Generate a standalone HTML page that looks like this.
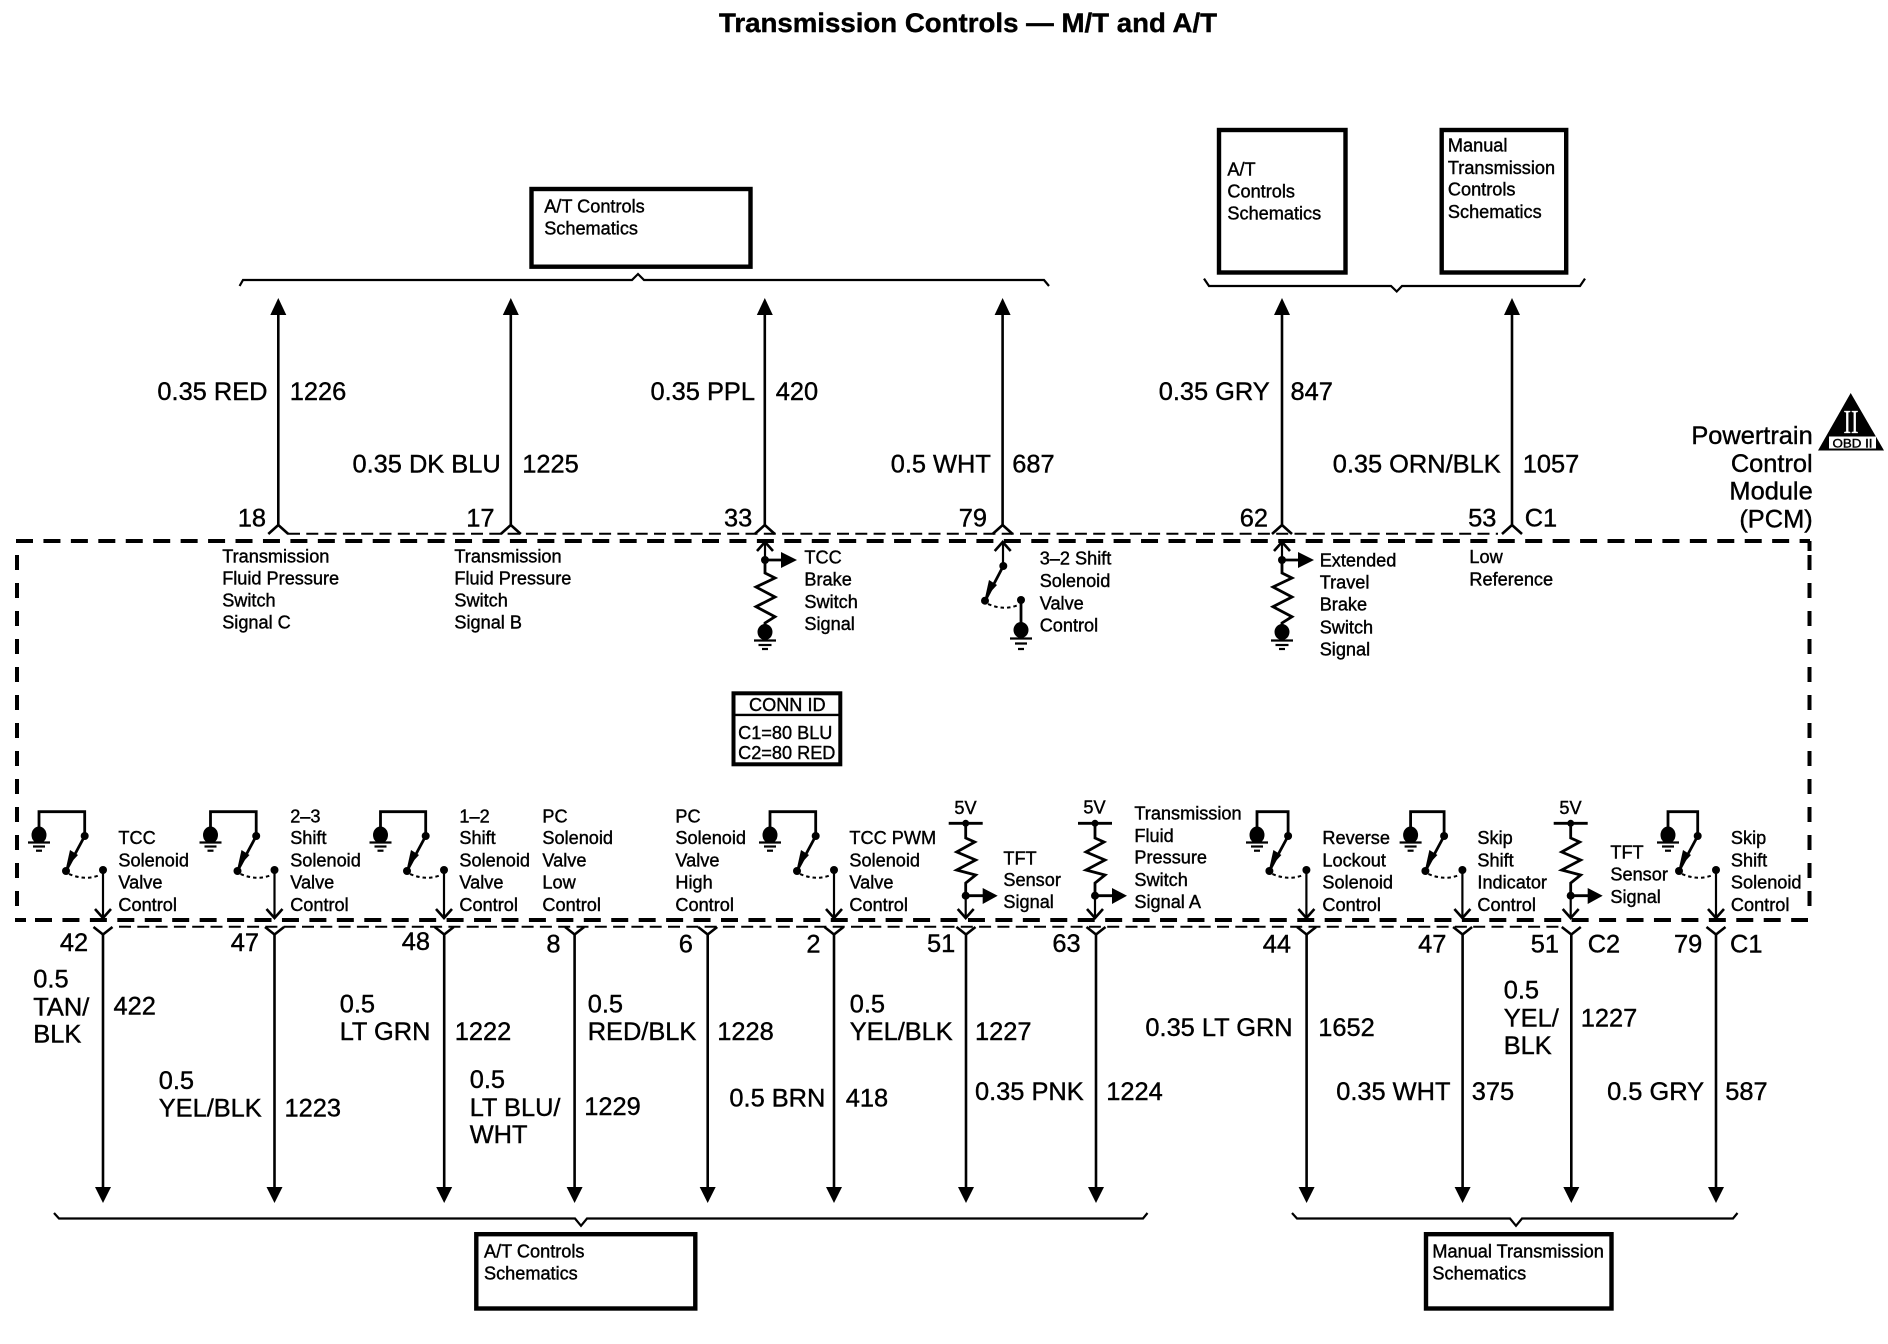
<!DOCTYPE html>
<html><head><meta charset="utf-8"><style>
html,body{margin:0;padding:0;background:#fff}
svg{display:block}
text{font-family:"Liberation Sans",sans-serif;fill:#000;stroke:#000;stroke-width:.4}
.b{font-size:25.4px}.s{font-size:18.15px}
.t{font-size:26.5px;font-weight:bold}
.w{stroke:#000;stroke-width:2.6;fill:none}
.n{stroke:#000;stroke-width:2.2;fill:none}
.f{stroke:#000;stroke-width:2.8;fill:none}
.box{stroke:#000;stroke-width:4.4;fill:#fff}
.d{stroke:#000;stroke-width:4;stroke-dasharray:17 10.44;fill:none}
.v{stroke:#000;stroke-width:4;stroke-dasharray:15 13;fill:none}
.td{stroke:#000;stroke-width:2;stroke-dasharray:12 6.3;fill:none}
</style></head><body>
<svg width="1888" height="1344" viewBox="0 0 1888 1344" xmlns="http://www.w3.org/2000/svg">
<defs>
<g id="upw"><path d="M0 525V305" class="w"/><path d="M0 298L8 315H-8Z"/><path d="M-10 534L0 525L10 534" class="w"/></g>
<g id="dnw"><path d="M0 934V1190" class="w"/><path d="M0 1203L8 1187H-8Z"/><path d="M-9.5 927L0 934.5L9.5 927" class="w"/></g>
<g id="sw"><circle cx="-18.3" cy="836" r="4"/><circle cx="-37" cy="871" r="4"/><circle cx="0" cy="870" r="4"/><path d="M-18.3 836L-36 869" class="f"/><path d="M-37 868L-33 850L-25 855Z"/><path d="M-34 874Q-18 881 -3 875" fill="none" stroke="#000" stroke-width="2" stroke-dasharray="3.5 3"/><path d="M0 870V917" class="n"/><path d="M-8 909L0 918L8 909" class="w"/></g>
<g id="gnd"><ellipse cx="0" cy="835" rx="7.5" ry="8.5"/><path d="M-11 842.5H11" class="n" stroke-width="1.8"/><path d="M-6 846.5H6" class="n"/><path d="M-3 850.7H3" class="n"/></g>
<g id="res"><path d="M0 561V573L10 578L-9 587L10 597L-9 606.7L10 616.7L0 623V630" class="f"/><circle cx="0" cy="560" r="4"/><path d="M0 560H18" class="f"/><path d="M32 560L16 552V568Z"/><path d="M0 560V543" class="n"/><path d="M-8 551L0 542L8 551" class="w"/><ellipse cx="0" cy="632" rx="7.5" ry="8"/><path d="M-11 640.5H11" class="n"/><path d="M-6.5 645H6.5" class="n"/><path d="M-3 649H3" class="n"/></g>
<g id="tft"><path d="M-17 823.3H17" class="f"/><circle cx="0" cy="823.3" r="3.5"/><path d="M0 823V838L9 842L-9 852L10 860L-9 870L10 875L0 883V895" class="f"/><circle cx="0" cy="895.7" r="4"/><path d="M0 895.7H18" class="f"/><path d="M32 895.7L17 888V904Z"/><path d="M0 896V917" class="n"/><path d="M-8 909L0 918L8 909" class="w"/></g>
</defs>

<text class="t" x="719" y="32" textLength="498" lengthAdjust="spacingAndGlyphs">Transmission Controls — M/T and A/T</text>

<!-- PCM dashed outline -->
<path class="d" d="M16 541H1810"/>
<path class="d" d="M35 920H1808"/>
<path d="M15 920H26" stroke="#000" stroke-width="4"/>
<path class="v" d="M17 555V920"/>
<path class="v" d="M1809.5 555V906"/>
<path d="M1809.5 541V551" stroke="#000" stroke-width="4"/>
<path class="td" d="M288 533.7H1498"/>
<path class="td" d="M119 926.7H1560"/>

<!-- boxes -->
<rect class="box" x="531.5" y="189" width="219" height="77.7"/>
<rect class="box" x="1219" y="130" width="126.5" height="142.5"/>
<rect class="box" x="1441.7" y="130" width="124.5" height="142.5"/>
<rect class="box" x="476.3" y="1234.2" width="219" height="74.3"/>
<rect class="box" x="1426" y="1234.2" width="185.5" height="74.3"/>

<!-- braces -->
<path class="n" d="M239.6 286L243 280H632L638 274L644 280H1044L1049 286"/>
<path class="n" d="M1204 278.6L1209 286H1391L1396.7 291.5L1402 286H1580L1585 278.6"/>
<path class="n" d="M54 1213L59 1218.5H575L581 1225.8L587 1218.5H1143L1147.5 1213"/>
<path class="n" d="M1292 1213L1297 1218.5H1510L1516 1225.8L1522 1218.5H1733L1737.5 1213"/>

<!-- upper wires -->
<use href="#upw" x="278.3"/><use href="#upw" x="510.8"/><use href="#upw" x="764.8"/><use href="#upw" x="1002.6"/><use href="#upw" x="1282"/><use href="#upw" x="1512"/>

<!-- lower wires -->
<use href="#dnw" x="103"/><use href="#dnw" x="274.5"/><use href="#dnw" x="444.2"/><use href="#dnw" x="574.6"/><use href="#dnw" x="707.7"/><use href="#dnw" x="834"/><use href="#dnw" x="966"/><use href="#dnw" x="1096"/><use href="#dnw" x="1306.6"/><use href="#dnw" x="1462.6"/><use href="#dnw" x="1571.3"/><use href="#dnw" x="1716"/>

<!-- sensors -->
<use href="#res" x="765"/><use href="#res" x="1282"/>
<use href="#tft" x="965.7"/><use href="#tft" x="1095"/><use href="#tft" x="1570.7"/>

<!-- 3-2 shift -->
<path class="n" d="M1003 543V566"/><path class="w" d="M994.7 551L1002.7 542L1010.7 551"/>
<circle cx="1003.3" cy="566" r="4"/><circle cx="985" cy="600.7" r="4"/><circle cx="1021" cy="600" r="4"/>
<path class="f" d="M1003.3 566L986 599"/><path d="M985 598L989 580L997 585Z"/>
<path d="M988 604Q1004 611 1018 605" fill="none" stroke="#000" stroke-width="2" stroke-dasharray="3.5 3"/>
<path class="f" d="M1021 600V625"/><ellipse cx="1021" cy="630" rx="7.5" ry="8"/>
<path class="n" d="M1010 638.5H1032M1015 643.5H1027M1018 649H1024"/>

<!-- solenoid switches -->
<use href="#sw" x="103"/><use href="#gnd" x="39"/><path class="f" d="M39 830V811.7H84.7V836"/>
<use href="#sw" x="274.5"/><use href="#gnd" x="210.5"/><path class="f" d="M210.5 830V811.7H256.2V836"/>
<use href="#sw" x="444"/><use href="#gnd" x="380.5"/><path class="f" d="M380.5 830V811.7H425.7V836"/>
<use href="#sw" x="834"/><use href="#gnd" x="770"/><path class="f" d="M770 830V811.7H815.7V836"/>
<use href="#sw" x="1306.4"/><use href="#gnd" x="1257"/><path class="f" d="M1257 830V811.7H1288.1V836"/>
<use href="#sw" x="1462.4"/><use href="#gnd" x="1410.6"/><path class="f" d="M1410.6 830V811.7H1444.1V836"/>
<use href="#sw" x="1716"/><use href="#gnd" x="1668"/><path class="f" d="M1668 830V811.7H1697.7V836"/>

<!-- conn id -->
<rect x="733.5" y="693.3" width="106.8" height="71" fill="#fff" stroke="#000" stroke-width="4"/>
<path d="M733 714.9H841" stroke="#000" stroke-width="2.4"/>

<!-- OBD -->
<path d="M1850.7 393L1818 450.5H1884Z"/>
<text x="1843.5" y="433" textLength="15" lengthAdjust="spacingAndGlyphs" style="font-family:'Liberation Serif',serif;font-size:34px;fill:#fff;stroke:#fff;stroke-width:.3">II</text>
<rect x="1829" y="436.5" width="47" height="12" fill="#fff"/>
<text x="1832.5" y="447.5" style="font-size:12px;stroke-width:.4" textLength="40" lengthAdjust="spacingAndGlyphs">OBD II</text>

<!-- big labels -->
<g class="b" transform="translate(-.3,-.4)">
<text x="157.7" y="400.5">0.35 RED</text><text x="290" y="400.5">1226</text>
<text x="352.8" y="472.8">0.35 DK BLU</text><text x="522.6" y="472.8">1225</text>
<text x="650.8" y="400.5">0.35 PPL</text><text x="776" y="400.5">420</text>
<text x="891" y="472.8">0.5 WHT</text><text x="1012.6" y="472.8">687</text>
<text x="1159" y="400.5">0.35 GRY</text><text x="1290.8" y="400.5">847</text>
<text x="1333" y="472.8">0.35 ORN/BLK</text><text x="1523" y="472.8">1057</text>
<text x="238" y="527">18</text><text x="466.6" y="527">17</text><text x="724.3" y="527">33</text><text x="959" y="527">79</text><text x="1240" y="527">62</text><text x="1468.4" y="527">53</text><text x="1525" y="527">C1</text>
<text x="1813" y="444.5" text-anchor="end">Powertrain</text><text x="1813" y="472.3" text-anchor="end">Control</text><text x="1813" y="500" text-anchor="end">Module</text><text x="1813" y="528" text-anchor="end">(PCM)</text>
<text x="60.2" y="951.5">42</text><text x="231" y="951.5">47</text><text x="402" y="950.6">48</text><text x="546.7" y="952.7">8</text><text x="679" y="952.7">6</text><text x="806.7" y="952.7">2</text><text x="927.3" y="952.3">51</text><text x="1052.7" y="952.5">63</text><text x="1263" y="952.7">44</text><text x="1418.4" y="952.7">47</text><text x="1531" y="952.7">51</text><text x="1588" y="952.7">C2</text><text x="1674.3" y="952.7">79</text><text x="1730.3" y="952.7">C1</text>
<text x="33.6" y="988">0.5</text><text x="33.6" y="1015.8">TAN/</text><text x="33.6" y="1042.8">BLK</text><text x="113.8" y="1015">422</text>
<text x="159" y="1089.5">0.5</text><text x="159" y="1117">YEL/BLK</text><text x="284.8" y="1117">1223</text>
<text x="340" y="1012.8">0.5</text><text x="340" y="1040.6">LT GRN</text><text x="455" y="1040.6">1222</text>
<text x="470" y="1088.6">0.5</text><text x="470" y="1116.5">LT BLU/</text><text x="470" y="1143.5">WHT</text><text x="584.6" y="1115.6">1229</text>
<text x="588" y="1012.8">0.5</text><text x="588" y="1040.6">RED/BLK</text><text x="717.6" y="1040.6">1228</text>
<text x="729.7" y="1107">0.5 BRN</text><text x="846" y="1107">418</text>
<text x="850" y="1012.8">0.5</text><text x="850" y="1040.6">YEL/BLK</text><text x="975.3" y="1040.6">1227</text>
<text x="975.3" y="1100.6">0.35 PNK</text><text x="1106.5" y="1100.6">1224</text>
<text x="1145.7" y="1036.3">0.35 LT GRN</text><text x="1318.5" y="1036.3">1652</text>
<text x="1336.5" y="1100.6">0.35 WHT</text><text x="1472" y="1100.6">375</text>
<text x="1504" y="999">0.5</text><text x="1504" y="1027">YEL/</text><text x="1504" y="1054.3">BLK</text><text x="1581" y="1027">1227</text>
<text x="1607.4" y="1100.6">0.5 GRY</text><text x="1725.5" y="1100.6">587</text>
</g>

<!-- small labels -->
<g class="s" transform="translate(-.6,-.5)">
<text x="544.8" y="213">A/T Controls</text><text x="544.8" y="235">Schematics</text>
<text x="1228" y="176">A/T</text><text x="1228" y="198">Controls</text><text x="1228" y="220">Schematics</text>
<text x="1448.5" y="152">Manual</text><text x="1448.5" y="174.4">Transmission</text><text x="1448.5" y="196">Controls</text><text x="1448.5" y="218.6">Schematics</text>
<text x="484.6" y="1258">A/T Controls</text><text x="484.6" y="1280">Schematics</text>
<text x="1433" y="1258">Manual Transmission</text><text x="1433" y="1280">Schematics</text>

<text x="222.8" y="562.8">Transmission</text><text x="222.8" y="585">Fluid Pressure</text><text x="222.8" y="607">Switch</text><text x="222.8" y="629">Signal C</text>
<text x="455" y="562.8">Transmission</text><text x="455" y="585">Fluid Pressure</text><text x="455" y="607">Switch</text><text x="455" y="629">Signal B</text>
<text x="805" y="564">TCC</text><text x="805" y="586">Brake</text><text x="805" y="608.5">Switch</text><text x="805" y="630.5">Signal</text>
<text x="1040.3" y="565">3–2 Shift</text><text x="1040.3" y="587.5">Solenoid</text><text x="1040.3" y="610">Valve</text><text x="1040.3" y="632">Control</text>
<text x="1320.3" y="567">Extended</text><text x="1320.3" y="589">Travel</text><text x="1320.3" y="611">Brake</text><text x="1320.3" y="634">Switch</text><text x="1320.3" y="656">Signal</text>
<text x="1470" y="563.6">Low</text><text x="1470" y="586">Reference</text>

<text x="749.6" y="711.4">CONN ID</text><text x="738.7" y="739.3">C1=80 BLU</text><text x="738.7" y="759.4">C2=80 RED</text>

<text x="119" y="844.3">TCC</text><text x="119" y="867">Solenoid</text><text x="119" y="889">Valve</text><text x="119" y="911.7">Control</text>
<text x="290.8" y="822.9">2–3</text><text x="290.8" y="844.3">Shift</text><text x="290.8" y="867">Solenoid</text><text x="290.8" y="889">Valve</text><text x="290.8" y="911.7">Control</text>
<text x="460" y="822.9">1–2</text><text x="460" y="844.3">Shift</text><text x="460" y="867">Solenoid</text><text x="460" y="889">Valve</text><text x="460" y="911.7">Control</text>
<text x="543" y="822.9">PC</text><text x="543" y="844.3">Solenoid</text><text x="543" y="867">Valve</text><text x="543" y="889">Low</text><text x="543" y="911.7">Control</text>
<text x="676" y="822.9">PC</text><text x="676" y="844.3">Solenoid</text><text x="676" y="867">Valve</text><text x="676" y="889">High</text><text x="676" y="911.7">Control</text>
<text x="850" y="844.3">TCC PWM</text><text x="850" y="867">Solenoid</text><text x="850" y="889">Valve</text><text x="850" y="911.7">Control</text>
<text x="955" y="814.5">5V</text><text x="1084" y="814">5V</text><text x="1560" y="814.5">5V</text>
<text x="1004" y="865">TFT</text><text x="1004" y="886.7">Sensor</text><text x="1004" y="908.5">Signal</text>
<text x="1135" y="820">Transmission</text><text x="1135" y="842.3">Fluid</text><text x="1135" y="864">Pressure</text><text x="1135" y="886.7">Switch</text><text x="1135" y="908.3">Signal A</text>
<text x="1323" y="844.3">Reverse</text><text x="1323" y="867">Lockout</text><text x="1323" y="889">Solenoid</text><text x="1323" y="911.7">Control</text>
<text x="1478" y="844.3">Skip</text><text x="1478" y="867">Shift</text><text x="1478" y="889">Indicator</text><text x="1478" y="911.7">Control</text>
<text x="1611" y="859">TFT</text><text x="1611" y="881">Sensor</text><text x="1611" y="903.5">Signal</text>
<text x="1731.5" y="844.3">Skip</text><text x="1731.5" y="867">Shift</text><text x="1731.5" y="889">Solenoid</text><text x="1731.5" y="911.7">Control</text>
</g>
</svg>
</body></html>
